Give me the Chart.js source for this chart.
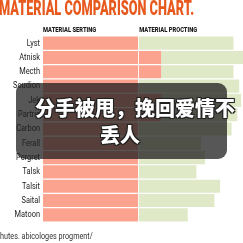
<!DOCTYPE html>
<html>
<head>
<meta charset="utf-8">
<script src="https://cdn.jsdelivr.net/npm/chart.js@4/dist/chart.umd.min.js"></script>
<style>
  html, body { margin: 0; padding: 0; background: #fff; }
  #wrap { position: relative; width: 243px; height: 243px; overflow: hidden; }
  #myChart { display: block; }
  #overlay {
    position: absolute; left: 16px; top: 83px; width: 211px; height: 76px;
    background: rgba(28, 28, 28, 0.74); border-radius: 9px;
  }
  .sub {
    position: absolute; white-space: nowrap; color: #fff;
    font-family: "Noto Sans CJK SC", sans-serif; font-weight: 900; font-size: 20px;
    line-height: 22px; letter-spacing: 0;
    text-shadow: -1px -1px 0 #222, 1px -1px 0 #222, -1px 1px 0 #222, 1px 1px 0 #222, 0 0 2px #000;
  }
</style>
</head>
<body>
<div id="wrap">
  <canvas id="myChart" width="243" height="243"></canvas>
  <div id="overlay"></div>
  <div class="sub" style="left:35px; top:97px;">分手被甩，挽回爱情不</div>
  <div class="sub" style="left:100px; top:124px;">丢人</div>
</div>
<script>
// data
const materials = ['Lyst', 'Atnisk', 'Mecth', 'Soudion', 'Jek', 'Partric', 'Carbon',
  'Ferall', 'Pergret', 'Talsk', 'Talsit', 'Saital', 'Matoon'];
const serting = [50, 62, 62, 50, 62, 62, 50, 50, 50, 50, 50, 50, 50];
const procting = [50, 43, 38, 53, 42, 40, 49, 33, 35, 30.5, 43, 40, 26];
const headers = ['MATERIAL SERTING', 'MATERIAL PROCTING'];
const chartTitle = 'MATERIAL COMPARISON CHART.';
const footerText = 'hutes. abicologes progment/';

const family = "'Roboto', 'Liberation Sans', sans-serif";

// text drawn narrower than the font, like the condensed face in the picture
function squeezed(ctx, text, x, y, font, sx, align) {
  ctx.save();
  ctx.font = font;
  ctx.textAlign = align || 'left';
  ctx.textBaseline = 'middle';
  ctx.translate(x, y);
  ctx.scale(sx, 1);
  ctx.fillText(text, 0, 0);
  ctx.restore();
}

const decor = {
  id: 'decor',
  afterDatasetsDraw(chart) {
    const ctx = chart.ctx;
    const x = chart.scales.x;
    const area = chart.chartArea;
    const mid = x.getPixelForValue(50);

    ctx.save();
    ctx.strokeStyle = 'rgba(255,255,255,0.9)';
    ctx.lineWidth = 1;
    ctx.beginPath();
    ctx.moveTo(Math.round(mid) + 0.5, area.top);
    ctx.lineTo(Math.round(mid) + 0.5, area.bottom);
    ctx.stroke();
    ctx.restore();
  },
  afterDraw(chart) {
    const ctx = chart.ctx;
    const x = chart.scales.x;
    const y = chart.scales.y;

    // title
    const titleFont = '900 21px ' + family;
    ctx.save();
    ctx.font = titleFont;
    let w = ctx.measureText(chartTitle).width;
    ctx.restore();
    ctx.fillStyle = '#e8591d';
    squeezed(ctx, chartTitle, -1, 9.5, titleFont, 195 / w);

    // column headers
    ctx.fillStyle = '#1a1a1a';
    squeezed(ctx, headers[0], x.getPixelForValue(0), 30, '900 7px ' + family, 0.82);
    squeezed(ctx, headers[1], x.getPixelForValue(50) + 1, 30, '900 7px ' + family, 0.82);

    // category labels
    ctx.fillStyle = '#222';
    materials.forEach((m, i) => {
      squeezed(ctx, m, 40, y.getPixelForValue(i), '9.5px ' + family, 0.78, 'right');
    });

    // source line
    ctx.fillStyle = '#333';
    squeezed(ctx, footerText, 0, 237, '8.5px ' + family, 0.85);
  }
};

const data = {
  labels: materials,
  datasets: [{
    label: headers[0],
    data: serting,
    backgroundColor: '#fba38f',
    barPercentage: 0.92,
    categoryPercentage: 1
  }, {
    label: headers[1],
    data: procting,
    backgroundColor: '#dfe9c7',
    barPercentage: 0.92,
    categoryPercentage: 1
  }]
};

const config = {
  type: 'bar',
  data,
  options: {
    indexAxis: 'y',
    responsive: false,
    animation: false,
    layout: { padding: { top: 36, bottom: 21, left: 0, right: 0 } },
    plugins: {
      legend: { display: false },
      tooltip: { enabled: false }
    },
    scales: {
      x: {
        stacked: true,
        display: false,
        min: 0,
        max: 105
      },
      y: {
        stacked: true,
        grid: { display: false },
        border: { display: false },
        afterFit(scale) { scale.width = 43; },
        ticks: { display: false }
      }
    }
  },
  plugins: [decor]
};

const myChart = new Chart(document.getElementById('myChart'), config);
</script>
</body>
</html>
